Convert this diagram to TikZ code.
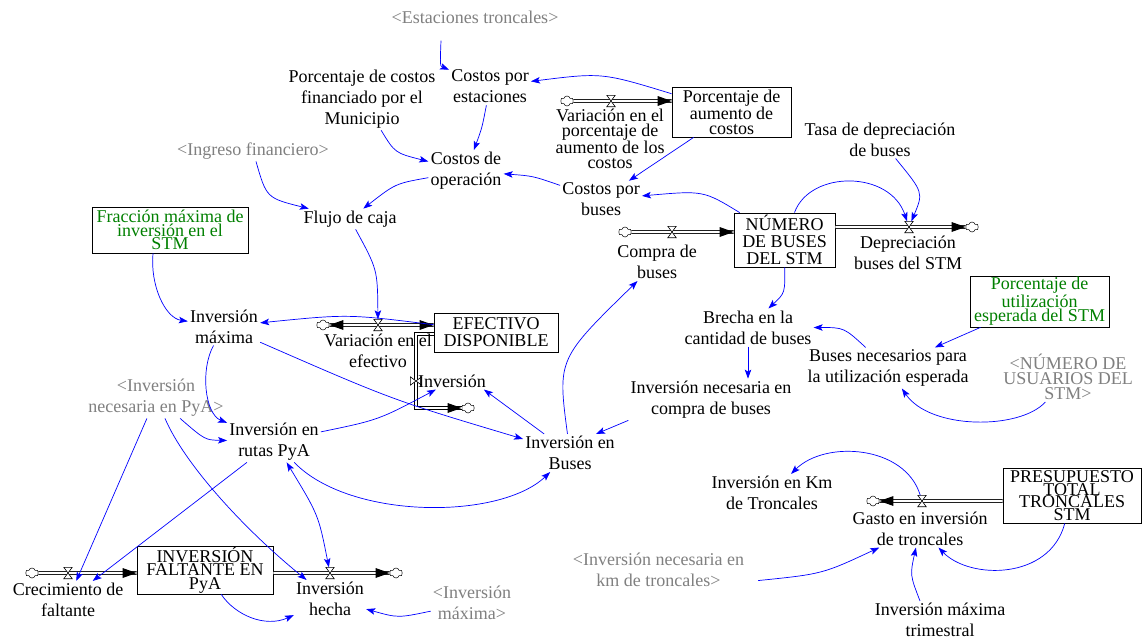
\documentclass[tikz,border=0pt]{standalone}
\usepackage{fontspec}
\setmainfont{Liberation Serif}
\usetikzlibrary{arrows.meta,calc,shapes.symbols}
\definecolor{linkblue}{RGB}{0,0,255}
\definecolor{shadowgray}{RGB}{128,128,128}
\definecolor{paramgreen}{RGB}{0,128,0}
% flow valves: horizontal pipe (hourglass) and vertical pipe (bow tie)
\newcommand\mkvalve[2]{%
  \node[valvebox] (#1) at #2 {};
  \filldraw[valveline] (#1.north west) -- (#1.north east) -- (#1.south west) -- (#1.south east) -- cycle;}
\newcommand\mkvalvev[2]{%
  \node[valveboxv] (#1) at #2 {};
  \filldraw[valveline] (#1.north west) -- (#1.south west) -- (#1.north east) -- (#1.south east) -- cycle;}
% filled heads at the end of a pipe
\newcommand\headright[1]{\fill #1 -- ++(-14,-5) -- ++(0,10) -- cycle;}
\newcommand\headleft[1]{\fill #1 -- ++(14,-5) -- ++(0,10) -- cycle;}
\begin{document}
\begin{tikzpicture}[x=1pt,y=-1pt,
  >={Stealth[length=9pt,width=6.5pt,inset=2pt]},
  txt/.style={align=center,inner sep=2pt,font=\fontsize{18}{21}\selectfont},
  ghost/.style={text=shadowgray},
  param/.style={text=paramgreen},
  stock/.style={draw=black,line width=0.8pt,align=center,inner sep=0pt},
  lnk/.style={draw=linkblue,line width=0.7pt,->},
  lnkboth/.style={draw=linkblue,line width=0.7pt,<->},
  pipe/.style={draw=black,line width=0.8pt,double=white,double distance=2.2pt},
  cloudn/.style={cloud,cloud puffs=6,aspect=1.3,draw=black,fill=white,line width=0.5pt,inner sep=0pt,minimum width=13pt,minimum height=10pt},
  valvebox/.style={inner sep=0pt,minimum width=8pt,minimum height=11pt},
  valveboxv/.style={inner sep=0pt,minimum width=11pt,minimum height=8pt},
  valveline/.style={draw=black,fill=white,line width=0.6pt}]

\fill[white] (0,0) rectangle (1143,642);
\useasboundingbox (0,0) rectangle (1143,642);

% ---------------- stocks ----------------
\node[stock,minimum width=119pt,minimum height=50pt,font=\fontsize{18}{14.5}\selectfont] (pac) at (731.5,112) {Porcentaje de\\aumento de\\costos};
\node[stock,minimum width=101pt,minimum height=54pt,font=\fontsize{18}{17}\selectfont] (num) at (784.5,240) {NÚMERO\\DE BUSES\\DEL STM};
\node[stock,minimum width=124pt,minimum height=39pt,font=\fontsize{18}{17}\selectfont] (efe) at (496,332.5) {EFECTIVO\\DISPONIBLE};
\node[stock,param,minimum width=156pt,minimum height=46pt,font=\fontsize{18}{12}\selectfont] (fra) at (170,230) {Fracción máxima de\\inversión en el\\STM};
\node[stock,param,minimum width=139pt,minimum height=51pt,font=\fontsize{18}{14.5}\selectfont] (puti) at (1039.5,301.5) {Porcentaje de\\utilización\\esperada del STM};
\node[stock,minimum width=136pt,minimum height=48pt,font=\fontsize{18}{13.5}\selectfont] (ifp) at (205,570) {INVERSIÓN\\FALTANTE EN\\PyA};
\node[stock,minimum width=138pt,minimum height=55pt,font=\fontsize{18}{12.5}\selectfont] (pres) at (1072,495.5) {PRESUPUESTO\\TOTAL\\TRONCALES\\STM};

% ---------------- sources and sinks ----------------
\node[cloudn] (c1) at (567,101) {};
\node[cloudn] (c2) at (625,232) {};
\node[cloudn] (c3) at (972,227) {};
\node[cloudn] (c4) at (323,325) {};
\node[cloudn] (c5) at (468,408) {};
\node[cloudn] (c6) at (32,573) {};
\node[cloudn] (c7) at (396,573) {};
\node[cloudn] (c8) at (873,501) {};
\coordinate (v5pos) at (416,381);

% ---------------- pipes ----------------
\draw[pipe] (c1) -- (pac.west |- c1);
\draw[pipe] (c2) -- (num.west |- c2);
\draw[pipe] (num.east |- c3) -- (c3);
\draw[pipe] (c4) -- (efe.west |- c4);
\draw[pipe] ($(efe.west)+(0,1.5)$) -| (v5pos) |- (c5.west);
\draw[pipe] (c6) -- (ifp.west |- c6);
\draw[pipe] (ifp.east |- c7) -- (c7);
\draw[pipe] (pres.west |- c8) -- (c8);

\mkvalve{v1}{(611,101)}
\mkvalve{v2}{(672,232)}
\mkvalve{v3}{(909,227)}
\mkvalve{v4}{(378,325)}
\mkvalvev{v5}{(v5pos)}
\mkvalve{v6}{(68,573)}
\mkvalve{v7}{(330,573)}
\mkvalve{v8}{(922,501)}

\headright{(pac.west |- c1)}
\headright{(num.west |- c2)}
\headright{(c3.west)}
\headright{(efe.west |- c4)}
\headleft{(c4.east)}
\headright{(c5.west)}
\headright{(ifp.west |- c6)}
\headright{(c7.west)}
\headleft{(c8.east)}

% ---------------- variables ----------------
\node[txt,ghost] (estr) at (475,17) {<Estaciones troncales>};
\node[txt] (pcf) at (362,99) {Porcentaje de costos\\financiado por el\\Municipio};
\node[txt] (cpe) at (490,86.5) {Costos por\\estaciones};
\node[txt,font=\fontsize{18}{14.7}\selectfont] (vpa) at (610,139) {Variación en el\\porcentaje de\\aumento de los\\costos};
\node[txt] (tdb) at (880,139.5) {Tasa de depreciación\\de buses};
\node[txt] (cop) at (466,171) {Costos de\\operación};
\node[txt] (cpb) at (601,199.5) {Costos por\\buses};
\node[txt,ghost] (ingf) at (253,151) {<Ingreso financiero>};
\node[txt] (fdc) at (350,219) {Flujo de caja};
\node[txt] (cdb) at (657,262) {Compra de\\buses};
\node[txt] (dep) at (908,252.5) {Depreciación\\buses del STM};
\node[txt] (imx) at (224,326.5) {Inversión\\máxima};
\node[txt] (vef) at (378,351) {Variación en el\\efectivo};
\node[txt] (inv) at (452,381) {Inversión};
\node[txt] (bcb) at (748,327.5) {Brecha en la\\cantidad de buses};
\node[txt] (bne) at (888,368) {Buses necesarios para\\la utilización esperada};
\node[txt,ghost,font=\fontsize{18}{15}\selectfont] (nus) at (1068,377) {<NÚMERO DE\\USUARIOS DEL\\STM>};
\node[txt,ghost] (inpya) at (156,397.5) {<Inversión\\necesaria en PyA>};
\node[txt] (inc) at (711,399.5) {Inversión necesaria en\\compra de buses};
\node[txt] (irp) at (274,441.5) {Inversión en\\rutas PyA};
\node[txt] (ibu) at (570,453) {Inversión en\\Buses};
\node[txt] (ikm) at (772,493) {Inversión en Km\\de Troncales};
\node[txt] (gas) at (920,528.5) {Gasto en inversión\\de troncales};
\node[txt,ghost] (inkm) at (658.5,569.5) {<Inversión necesaria en\\km de troncales>};
\node[txt] (cfa) at (68,600) {Crecimiento de\\faltante};
\node[txt] (ihe) at (330,599) {Inversión\\hecha};
\node[txt,ghost] (imxg) at (472,602.5) {<Inversión\\máxima>};
\node[txt] (imt) at (940,620) {Inversión máxima\\trimestral};

% ---------------- information links ----------------
\draw[lnk] ($(estr.south)+(-34,15)$) .. controls (440,66) .. (cpe);
\draw[lnk] (pac) .. controls (602,72.5) .. (cpe);
\draw[lnk] (cpe) .. controls (482,128) .. (cop);
\draw[lnk] (pcf) .. controls (395,153) .. (cop);
\draw[lnk] (pac) -- (cpb);
\draw[lnk] (num) .. controls (703.5,190.5) .. (cpb);
\draw[lnk] (cpb) .. controls (533,176) .. (cop);
\draw[lnk] (cop) .. controls (395.5,183.5) .. (fdc);
\draw[lnk] (ingf) .. controls (266.5,198) .. (fdc);
\draw[lnk] (fdc) .. controls (377.5,269.5) .. (v4);
\draw[lnk] ($(fra.south)+(-17,0)$) .. controls (150,285) and (165,318) .. (imx);
\draw[lnk] (efe) .. controls (348,314) .. (imx);
\draw[lnk] (imx) .. controls (200,370) and (205,414) .. (irp);
\draw[lnk] (imx) .. controls (392.5,400) .. (ibu);
\draw[lnk] (irp) .. controls (378.5,420) .. (inv);
\draw[lnk] (ibu) -- (inv.-15);
\draw[lnk] (ibu) .. controls (557.5,359) .. (cdb);
\draw[lnk] (inc.south west) -- ($(ibu.north)+(26,0)$);
\draw[lnk] (num) .. controls (785,293) .. (bcb);
\draw[lnk] (num) .. controls (810,170) and (890,170) .. (v3);
\draw[lnk] (tdb) .. controls (923.5,192.5) .. (v3);
\draw[lnk] (bcb.south) -- (bcb.south |- inc.north);
\draw[lnk] (bne) .. controls (844,327.5) .. (bcb);
\draw[lnk] (puti) -- (bne);
\draw[lnk] (nus) .. controls (1020,430) and (930,430) .. (bne);
\draw[lnk] (inpya) -- (cfa);
\draw[lnk] (inpya) .. controls (185,465) and (245,530) .. (ihe);
\draw[lnk] (inpya) .. controls (205,440) .. (irp);
\draw[lnk] (irp) -- (cfa);
\draw[lnk] (irp) .. controls (350,520) and (500,520) .. (ibu);
\draw[lnkboth] (v7) .. controls (318.5,515) .. (irp);
\draw[lnk] (ifp) .. controls (235,615) and (265,628) .. (ihe);
\draw[lnk] (imxg) .. controls (398,618) .. (ihe);
\draw[lnk] (v8) .. controls (905,445) and (825,440) .. (ikm);
\draw[lnk] ($(inkm.south east)+(12,-8)$) .. controls (822.5,574) .. (gas);
\draw[lnk] ($(imt.north)+(-20,0)$) .. controls (910,575) .. (gas);
\draw[lnk] (pres) .. controls (1050,580) and (970,580) .. (gas);
\end{tikzpicture}
\end{document}
